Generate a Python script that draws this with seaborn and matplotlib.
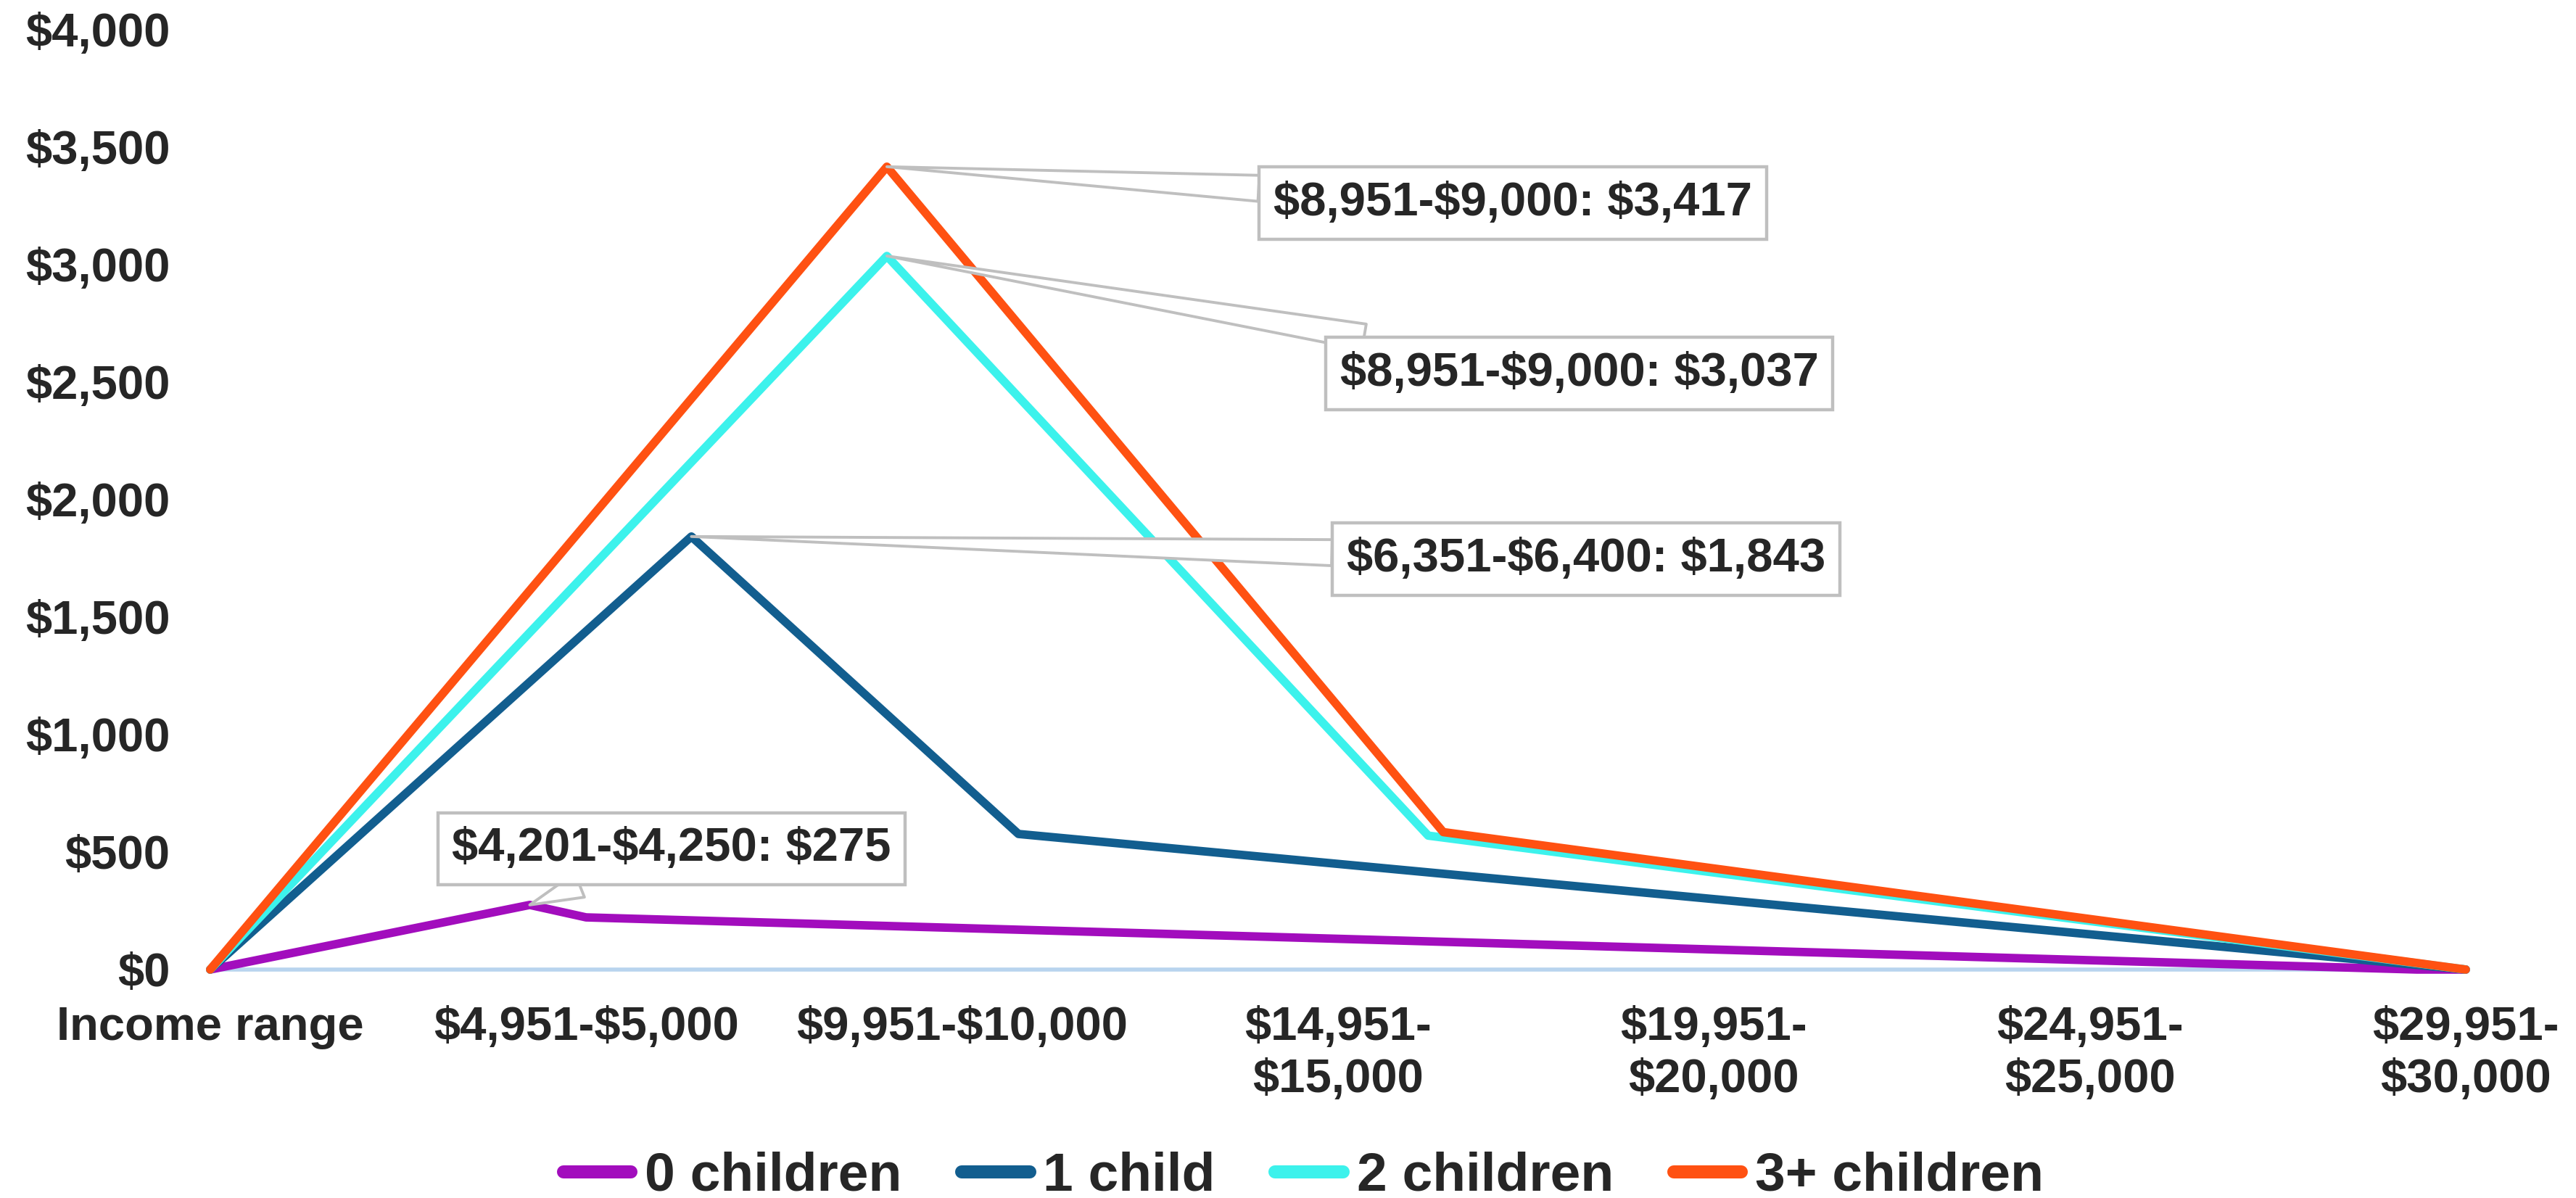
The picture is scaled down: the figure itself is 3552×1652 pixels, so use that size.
import matplotlib
matplotlib.use("Agg")
import matplotlib.pyplot as plt
import seaborn as sns
import pandas as pd

# breakpoints of each credit schedule (income bucket upper bound, credit $)
income_0 = [0, 4250, 5000, 29350, 30000]
credit_0 = [0, 275, 222, 0, 0]
income_1 = [0, 6400, 10750, 30000]
credit_1 = [0, 1843, 577, 0]
income_2 = [0, 9000, 16200, 30000]
credit_2 = [0, 3037, 570, 0]
income_3 = [0, 9000, 16400, 30000]
credit_3 = [0, 3417, 585, 0]

series_names = ["0 children", "1 child", "2 children", "3+ children"]
colors = ["#A20DBD", "#125E8F", "#3CF2EC", "#FF5112"]

tick_pos = [0, 5000, 10000, 15000, 20000, 25000, 30000]
tick_labels = ["Income range", "$4,951-$5,000", "$9,951-$10,000", "$14,951-\n$15,000",
               "$19,951-\n$20,000", "$24,951-\n$25,000", "$29,951-\n$30,000"]

callout_text = ["$4,201-$4,250: $275", "$6,351-$6,400: $1,843",
                "$8,951-$9,000: $3,037", "$8,951-$9,000: $3,417"]
callout_point = [(4250, 275), (6400, 1843), (9000, 3037), (9000, 3417)]
callout_box = [(6135, 515), (18300, 1747), (18212, 2537), (17325, 3262)]

frames = []
for name, xs, ys in zip(series_names, [income_0, income_1, income_2, income_3],
                        [credit_0, credit_1, credit_2, credit_3]):
    frames.append(pd.DataFrame({"income": xs, "credit": ys, "group": name}))
df = pd.concat(frames, ignore_index=True)

sns.set_style("white")
plt.rcParams["font.family"] = ["Liberation Sans", "DejaVu Sans"]
plt.rcParams["font.weight"] = "bold"
plt.rcParams["text.parse_math"] = False

fig = plt.figure(figsize=(17.76, 8.26), dpi=200)
ax = fig.add_axes([0.0816, 0.1907, 0.8756, 0.7845])

sns.lineplot(data=df, x="income", y="credit", hue="group", hue_order=series_names,
             palette=dict(zip(series_names, colors)), estimator=None, sort=False,
             linewidth=4.2, ax=ax, legend=True, clip_on=False)

ax.set_xlim(0, 30000)
ax.set_ylim(0, 4000)
ax.set_yticks(range(0, 4001, 500))
ax.set_yticklabels([f"${v:,}" for v in range(0, 4001, 500)])
ax.set_xticks(tick_pos)
ax.set_xticklabels(tick_labels, linespacing=1.25)
ax.tick_params(axis="y", length=0, pad=20, labelsize=23.5)
ax.tick_params(axis="x", length=0, pad=18, labelsize=23.5)
for lab in ax.get_xticklabels() + ax.get_yticklabels():
    lab.set_fontweight("bold")
ax.set_xlabel("")
ax.set_ylabel("")

for side in ["top", "right", "left"]:
    ax.spines[side].set_visible(False)
ax.spines["bottom"].set_color("#B8D4EE")
ax.spines["bottom"].set_linewidth(2)
ax.spines["bottom"].set_zorder(0)

for txt, pt, box in zip(callout_text, callout_point, callout_box):
    ax.annotate(txt, xy=pt, xytext=box, ha="center", va="center",
                fontsize=23.5, fontweight="bold", zorder=10,
                bbox=dict(boxstyle="square,pad=0.3", fc="white", ec="#BFBFBF", lw=1.6),
                arrowprops=dict(arrowstyle="wedge,tail_width=0.55,shrink_factor=0.5",
                                fc="white", ec="#BFBFBF", lw=1.4, shrinkA=0, shrinkB=0))

handles, labels = ax.get_legend_handles_labels()
ax.legend_.remove()
for h in handles:
    h.set_linewidth(6.5)
    h.set_solid_capstyle("round")
fig.legend(handles, labels, loc="center", bbox_to_anchor=(0.506, 0.018), ncol=4,
           frameon=False, prop={"size": 27, "weight": "bold"}, handlelength=1.25,
           handletextpad=0.25, columnspacing=1.1)

plt.savefig("out.png", dpi=200)
